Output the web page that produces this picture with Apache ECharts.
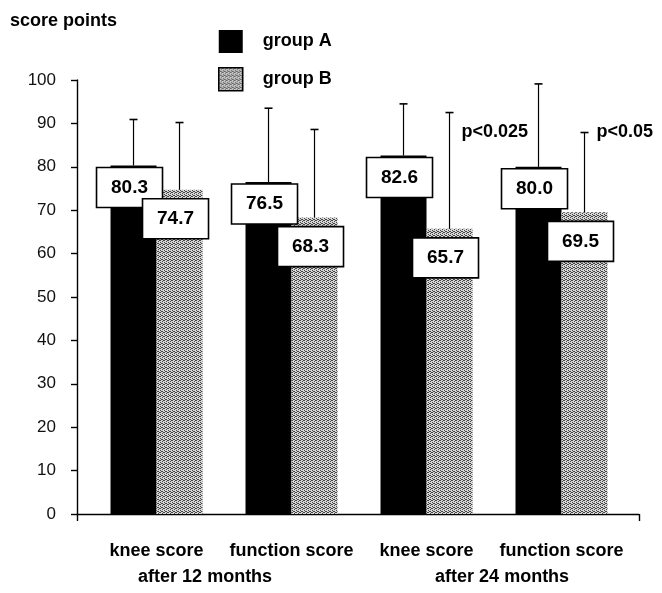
<!DOCTYPE html>
<html>
<head>
<meta charset="utf-8">
<script src="https://cdn.jsdelivr.net/npm/echarts@6/dist/echarts.min.js"></script>
<style>
html,body{margin:0;padding:0;background:#fff;}
#chart{width:662px;height:593px;}
</style>
</head>
<body>
<div id="chart"></div>
<script>
// ---- data ----
const categories = ['knee score', 'function score', 'knee score', 'function score'];
const periods = ['after 12 months', 'after 24 months'];
const groupA = [80.3, 76.5, 82.6, 80.0];
const groupB = [74.7, 68.3, 65.7, 69.5];
const sdA = [10.6, 17.0, 11.9, 19.1];
const sdB = [15.5, 20.3, 26.8, 18.4];
const pLabels = ['', '', 'p<0.025', 'p<0.05'];
const seriesNames = ['group A', 'group B'];

// ---- styles ----
const FONT = '"Liberation Sans", Arial, Helvetica, sans-serif';
const X_MIN = -0.589, X_MAX = 3.574;
const BAR_FRAC = 46 / 135;

const pc = document.createElement('canvas');
pc.width = 4; pc.height = 4;
const pctx = pc.getContext('2d');
pctx.fillStyle = '#d6d6d6'; pctx.fillRect(0, 0, 4, 4);
pctx.fillStyle = '#444';
[[0,0],[2,1],[0,2],[2,3],[3,0],[1,3]].forEach(function(p){ pctx.fillRect(p[0], p[1], 1, 1); });
const grayFill = { image: pc, repeat: 'repeat' };

function barRenderer(isB, fill) {
  return function (params, api) {
    const i = api.value(0), v = api.value(1), sd = api.value(2);
    const base = api.coord([i, 0]);
    const top = api.coord([i, v]);
    const err = api.coord([i, v + sd]);
    const w = api.size([1, 0])[0] * BAR_FRAC;
    const x0 = isB ? base[0] : base[0] - w;
    const cx = x0 + w / 2;
    return {
      type: 'group',
      children: [
        { type: 'rect', shape: { x: x0, y: top[1], width: w, height: base[1] - top[1] }, style: { fill: fill } },
        { type: 'line', shape: { x1: cx, y1: top[1], x2: cx, y2: err[1] }, style: { stroke: '#000', lineWidth: 1.2 } },
        { type: 'line', shape: { x1: cx - 4, y1: err[1], x2: cx + 4, y2: err[1] }, style: { stroke: '#000', lineWidth: 1.6 } }
      ]
    };
  };
}

function labelRenderer(params, api) {
  const idx = params.dataIndex;
  const i = api.value(0);
  const w = api.size([1, 0])[0] * BAR_FRAC;
  const base = api.coord([i, 0]);
  const children = [];
  const boxes = [
    { v: groupA[idx], cx: base[0] - w / 2 - 4, off: 2 },
    { v: groupB[idx], cx: base[0] + w / 2 - 4, off: 9 }
  ];
  boxes.forEach(function (b) {
    const t = api.coord([i, b.v]);
    const y = t[1] + b.off;
    children.push({ type: 'rect', shape: { x: b.cx - 33, y: y, width: 66, height: 40 },
      style: { fill: '#fff', stroke: '#000', lineWidth: 1.6 } });
    children.push({ type: 'text', style: { x: b.cx, y: y + 20, text: b.v.toFixed(1), align: 'center', verticalAlign: 'middle',
      font: 'bold 19px ' + FONT, fill: '#000' } });
  });
  if (pLabels[idx]) {
    const pp = api.coord([i, 88]);
    children.push({ type: 'text', style: { x: base[0] + w / 2 + 12, y: pp[1], text: pLabels[idx], align: 'left', verticalAlign: 'middle',
      font: 'bold 18px ' + FONT, fill: '#000' } });
  }
  return { type: 'group', children: children };
}

const chart = echarts.init(document.getElementById('chart'), null, { renderer: 'canvas' });
chart.setOption({
  animation: false,
  backgroundColor: '#fff',
  title: {
    text: 'score points', left: 10, top: 12, padding: 0,
    textStyle: { fontFamily: FONT, fontWeight: 'bold', fontSize: 18, color: '#000' }
  },
  legend: {
    orient: 'vertical', left: 218, top: 30, padding: 0,
    itemWidth: 24, itemHeight: 23, itemGap: 14,
    textStyle: { fontFamily: FONT, fontWeight: 'bold', fontSize: 18, color: '#000', padding: [0, 0, 0, 15] },
    data: [
      { name: seriesNames[0], icon: 'rect', itemStyle: { color: '#000' } },
      { name: seriesNames[1], icon: 'rect', itemStyle: { color: grayFill, borderColor: '#000', borderWidth: 1.5 } }
    ]
  },
  grid: { left: 77, right: 23, top: 80, bottom: 79, containLabel: false },
  xAxis: [
    {
      type: 'value', min: X_MIN, max: X_MAX, position: 'bottom',
      splitLine: { show: false },
      axisLine: { show: true, onZero: false, lineStyle: { color: '#000', width: 1.4 } },
      axisTick: { show: true, customValues: [X_MIN, X_MAX], length: 7, lineStyle: { color: '#000', width: 1.4 } },
      axisLabel: {
        show: true, customValues: [0, 1, 2, 3], margin: 28,
        formatter: function (v) { return categories[Math.round(v)]; },
        fontFamily: FONT, fontWeight: 'bold', fontSize: 18, color: '#000'
      }
    },
    {
      type: 'value', min: X_MIN, max: X_MAX, position: 'bottom',
      splitLine: { show: false },
      axisLine: { show: false, onZero: false }, axisTick: { show: false },
      axisLabel: {
        show: true, customValues: [0.36, 2.56], margin: 54,
        formatter: function (v) { return periods[v < 1.5 ? 0 : 1]; },
        fontFamily: FONT, fontWeight: 'bold', fontSize: 18, color: '#000'
      }
    }
  ],
  yAxis: {
    type: 'value', min: 0, max: 100, interval: 10,
    splitLine: { show: false },
    axisLine: { show: true, onZero: false, lineStyle: { color: '#000', width: 1.4 } },
    axisTick: { show: true, length: 6, lineStyle: { color: '#000', width: 1.4 } },
    axisLabel: { margin: 21, fontFamily: FONT, fontSize: 17, color: '#111' }
  },
  series: [
    {
      name: seriesNames[0], type: 'custom', z: 2,
      itemStyle: { color: '#000' },
      encode: { x: 0, y: 1 },
      renderItem: barRenderer(false, '#000'),
      data: groupA.map(function (v, i) { return [i, v, sdA[i]]; })
    },
    {
      name: seriesNames[1], type: 'custom', z: 2,
      itemStyle: { color: grayFill },
      encode: { x: 0, y: 1 },
      renderItem: barRenderer(true, grayFill),
      data: groupB.map(function (v, i) { return [i, v, sdB[i]]; })
    },
    {
      name: 'labels', type: 'custom', z: 5,
      encode: { x: 0, y: 1 },
      renderItem: labelRenderer,
      data: groupA.map(function (v, i) { return [i, v]; })
    }
  ]
});
</script>
</body>
</html>
